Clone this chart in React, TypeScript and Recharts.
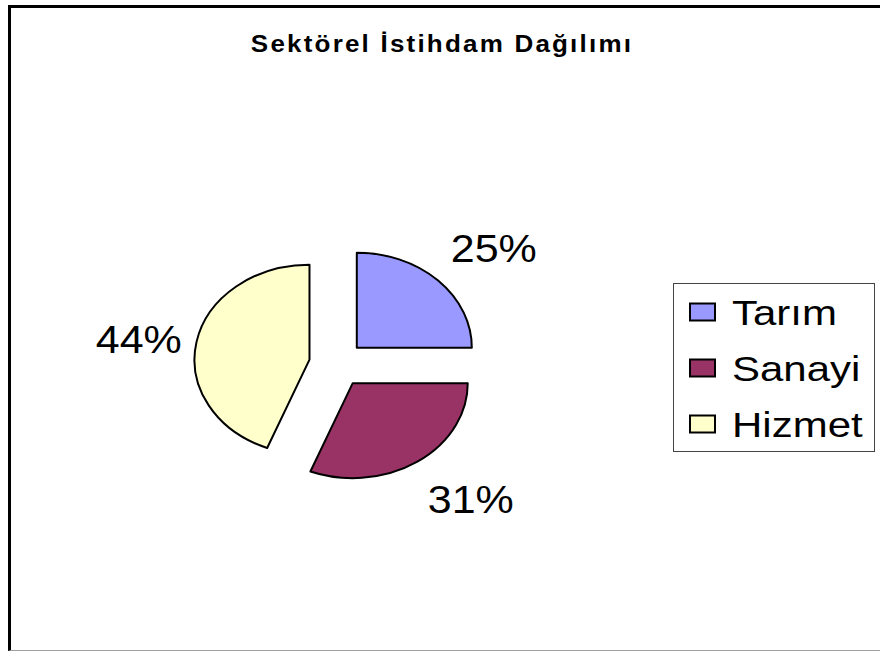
import { PieChart, Pie, Cell, Legend } from 'recharts';

const sectors = ['Tarım', 'Sanayi', 'Hizmet'];
const shares = [25, 31, 44];
const colors = ['#9999FF', '#993366', '#FFFFCC'];

const data = sectors.map((name, i) => ({ name, value: shares[i] }));

// the original pie is squashed vertically and each slice is pulled out
const SQUASH = 0.826;
const EXPLODE = 28;
const LABEL_R = 158;
const RAD = Math.PI / 180;

const ellipseSlice = (props: any) => {
  const { cx, cy, outerRadius, startAngle, endAngle, fill } = props;
  const mid = (startAngle + endAngle) / 2;
  const ox = cx + EXPLODE * Math.cos(mid * RAD);
  const oy = cy - EXPLODE * SQUASH * Math.sin(mid * RAD);
  const pt = (a: number) => [ox + outerRadius * Math.cos(a * RAD), oy - outerRadius * SQUASH * Math.sin(a * RAD)];
  const [x1, y1] = pt(startAngle);
  const [x2, y2] = pt(endAngle);
  const large = Math.abs(startAngle - endAngle) > 180 ? 1 : 0;
  const sweep = startAngle > endAngle ? 1 : 0;
  return (
    <path
      d={`M${ox},${oy} L${x1},${y1} A${outerRadius},${outerRadius * SQUASH} 0 ${large} ${sweep} ${x2},${y2} Z`}
      fill={fill}
      stroke="#000"
      strokeWidth={2}
      strokeLinejoin="round"
    />
  );
};

const renderLabel = (props: any) => {
  const { cx, cy, midAngle, percent } = props;
  const c = Math.cos(midAngle * RAD);
  const s = Math.sin(midAngle * RAD);
  const px = cx + LABEL_R * c;
  const py = cy - LABEL_R * SQUASH * s;
  let anchor: 'start' | 'end' | 'middle' = 'middle';
  let x = px;
  if (c > 0.3) { anchor = 'start'; x = px + 2; }
  else if (c < -0.3) { anchor = 'end'; }
  let y = py + 13;
  if (s > 0.5) y = py - 10;
  else if (s < -0.5) y = py + 41;
  return (
    <text
      transform={`translate(${x},${y}) scale(1,0.9)`}
      textAnchor={anchor}
      fontSize={43}
      fontFamily="'Liberation Sans', Arial, sans-serif"
      fill="#000"
    >
      {`${Math.round(percent * 100)}%`}
    </text>
  );
};

const renderLegend = (props: any) => {
  const items = [...(props.payload || [])].sort(
    (a: any, b: any) => sectors.indexOf(a.value) - sectors.indexOf(b.value)
  );
  return (
    <svg width={202} height={169} style={{ display: 'block' }}>
      <rect x={0.5} y={0.5} width={201} height={168} fill="#fff" stroke="#444" strokeWidth={1} />
      {items.map((entry: any, i: number) => {
        const cyRow = 29 + i * 56;
        return (
          <g key={entry.value}>
            <rect x={17} y={cyRow - 8.5} width={25} height={17} fill={entry.color} stroke="#000" strokeWidth={2} />
            <text
              transform={`translate(59,${cyRow + 13}) scale(1,0.85)`}
              fontSize={42}
              fontFamily="'Liberation Sans', Arial, sans-serif"
              fill="#000"
            >
              {entry.value}
            </text>
          </g>
        );
      })}
    </svg>
  );
};

export default function App() {
  return (
    <div style={{ position: 'absolute', left: 0, top: 0, width: 880, height: 652, overflow: 'hidden', background: '#fff' }}>
      <div
        style={{
          position: 'absolute',
          left: 8,
          top: 5,
          width: 900,
          height: 642,
          borderLeft: '3px solid #000',
          borderTop: '3px solid #000',
          borderBottom: '1px solid #a0a0a0',
        }}
      />
      <div
        style={{
          position: 'absolute',
          left: 0,
          top: 29,
          width: 884,
          textAlign: 'center',
          fontFamily: "'Liberation Sans', Arial, sans-serif",
          fontWeight: 'bold',
          fontSize: 26,
          letterSpacing: 2.2,
          transform: 'scaleY(0.9)',
          color: '#000',
        }}
      >
        Sektörel İstihdam Dağılımı
      </div>
      <div style={{ position: 'absolute', left: 0, top: 0 }}>
        <PieChart width={880} height={652} margin={{ top: 0, right: 0, bottom: 0, left: 0 }}>
          <Pie
            data={data}
            dataKey="value"
            nameKey="name"
            cx={337}
            cy={364}
            outerRadius={115}
            startAngle={90}
            endAngle={-270}
            label={renderLabel}
            labelLine={false}
            shape={ellipseSlice}
            isAnimationActive={false}
          >
            {data.map((d, i) => (
              <Cell key={d.name} fill={colors[i]} />
            ))}
          </Pie>
          <Legend
            layout="vertical"
            align="right"
            verticalAlign="top"
            content={renderLegend}
            wrapperStyle={{ left: 673, top: 283, width: 202, height: 169 }}
          />
        </PieChart>
      </div>
    </div>
  );
}
